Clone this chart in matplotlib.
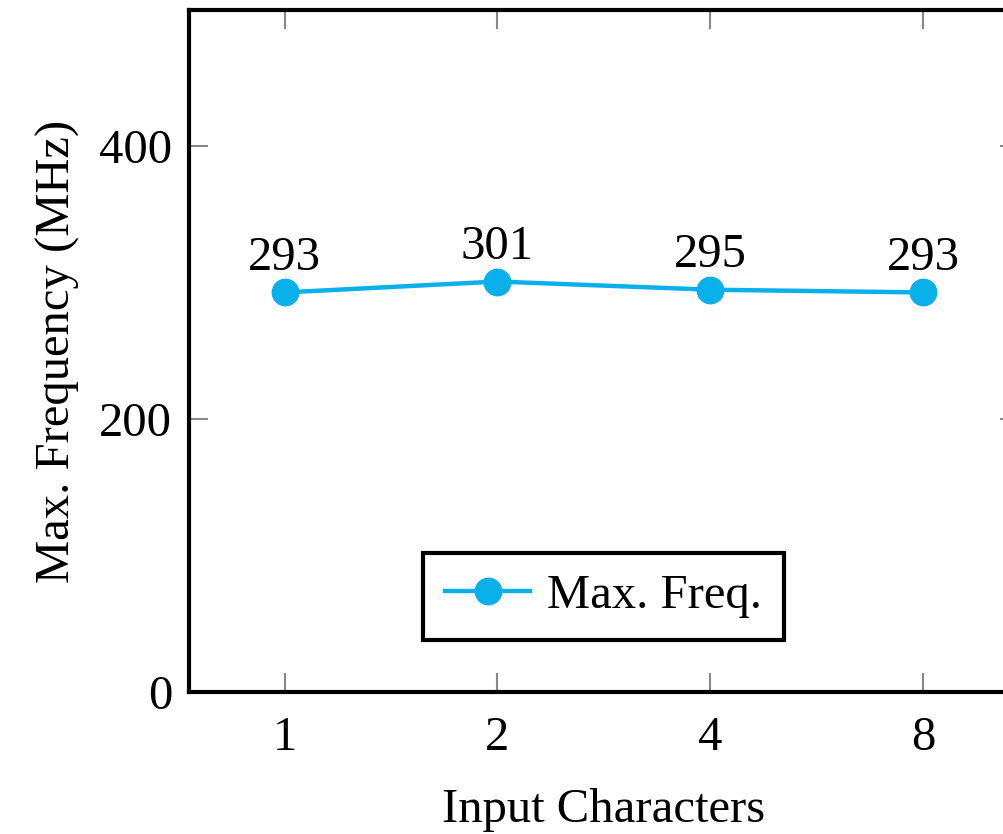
import numpy as np
import matplotlib
matplotlib.use("Agg")
import matplotlib.pyplot as plt

# data
categories = ["1", "2", "4", "8"]
max_freq = [293, 301, 295, 293]
yticks = [0, 200, 400]

plt.rcParams['font.family'] = ['Liberation Serif', 'DejaVu Serif']
fs = 35

line_col = '#0AB0EA'

fig = plt.figure(figsize=(10.04, 8.34), dpi=100)
ax = fig.add_axes([0.188, 0.170, 1.015 - 0.188, 0.988 - 0.170])

x = np.arange(1, len(categories) + 1)
ax.plot(x, max_freq, color=line_col, lw=3.2, marker='o', markersize=19,
        label='Max. Freq.')

# value labels above each point
for xi, v in zip(x, max_freq):
    ax.annotate(str(v), (xi, v), xytext=(0, 9), textcoords='offset points',
                ha='center', va='bottom', fontsize=fs)

ax.set_xlim(0.55, 4.45)
ax.set_ylim(0, 500)
ax.set_xticks(x)
ax.set_xticklabels(categories)
ax.set_yticks(yticks)

for s in ax.spines.values():
    s.set_linewidth(3)
ax.tick_params(direction='in', length=14, width=1.5, color='#888888',
               top=True, right=True, pad=12, labelsize=fs)
ax.tick_params(axis='x', pad=17)

ax.set_xlabel("Input Characters", fontsize=fs, labelpad=20)
ax.set_ylabel("Max. Frequency (MHz)", fontsize=fs, labelpad=14)

leg = ax.legend(loc='lower center', bbox_to_anchor=(0.5, 0.076), fancybox=False,
                framealpha=1, edgecolor='black', fontsize=fs, handlelength=1.75,
                handletextpad=0.35, borderpad=0.45, borderaxespad=0)
leg.get_frame().set_linewidth(3)

fig.savefig("out.png", dpi=100)
